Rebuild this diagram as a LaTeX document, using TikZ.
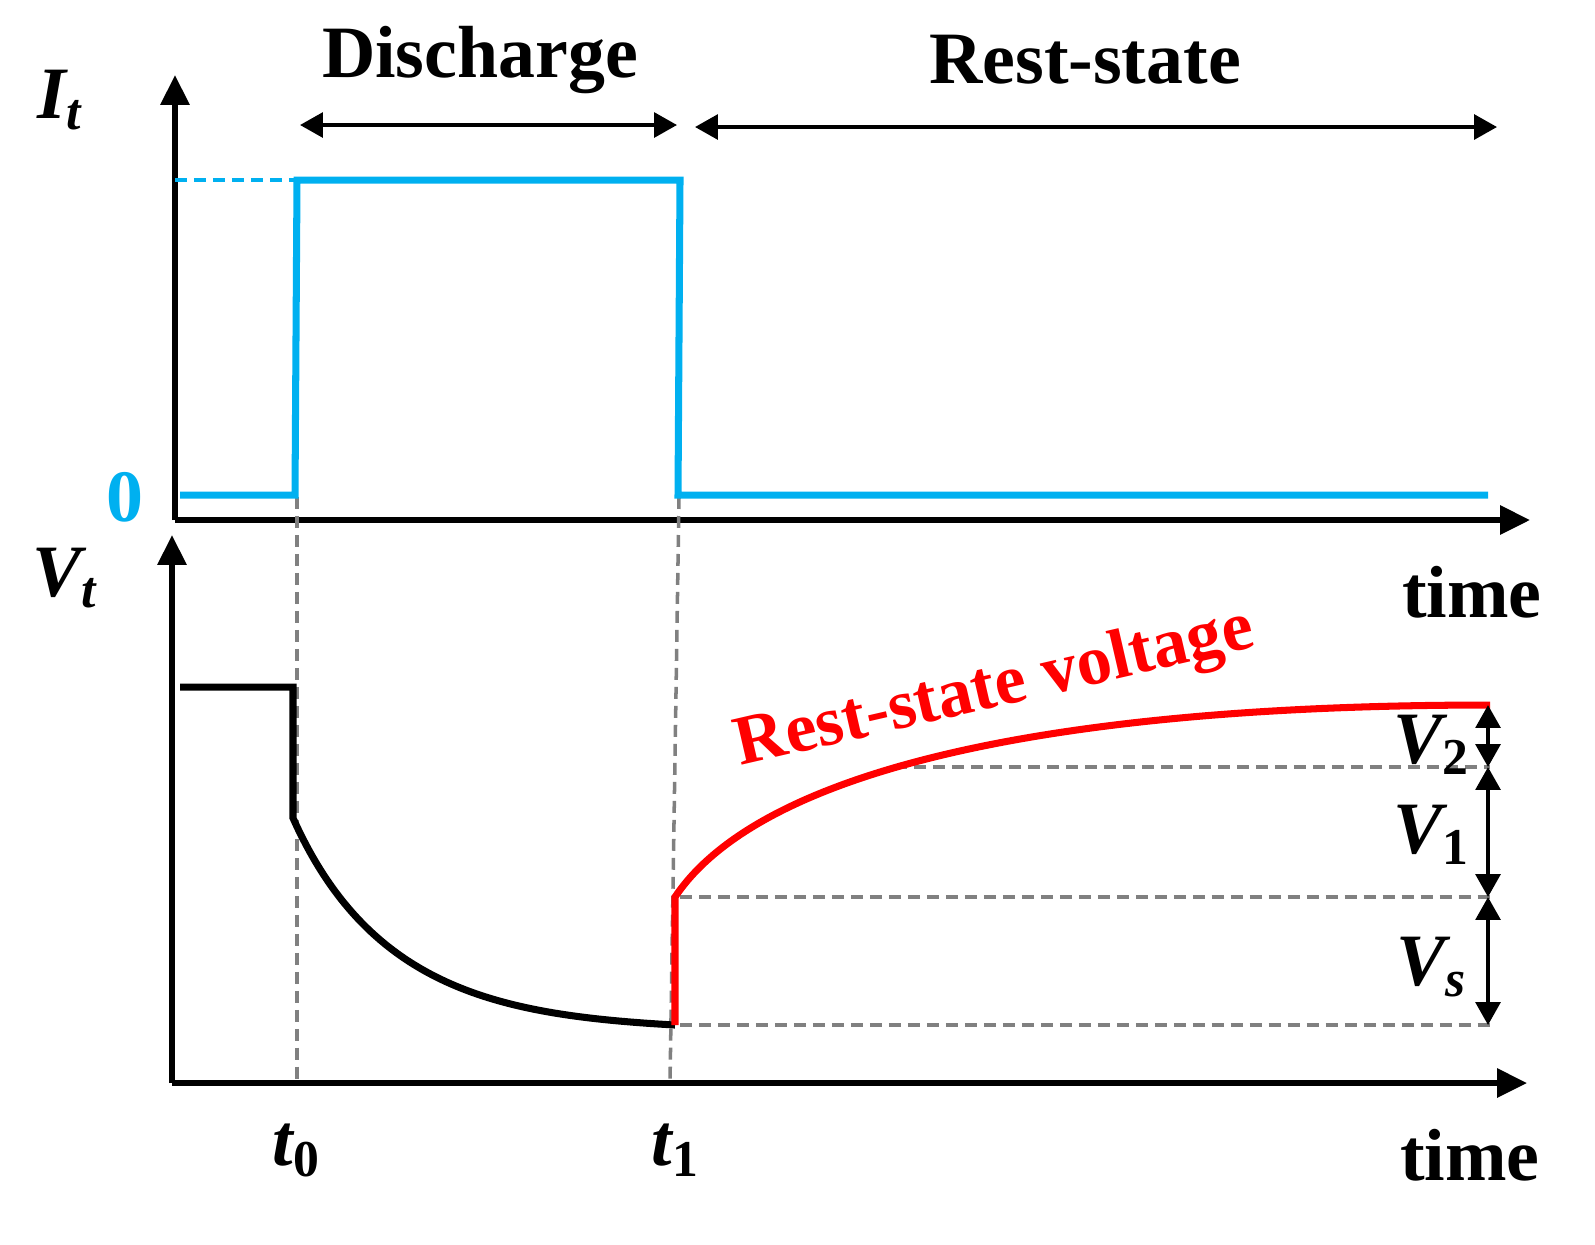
\documentclass[tikz,border=0pt]{standalone}
\usepackage{fontspec}
\setmainfont{Liberation Serif}
\usetikzlibrary{arrows.meta}
\definecolor{cblue}{RGB}{0,176,240}
\definecolor{cgray}{RGB}{128,128,128}
\begin{document}
\begin{tikzpicture}[x=0.01cm,y=-0.01cm,
 ax/.style={line width=1.6pt,-{Triangle[length=8.5pt,width=8pt]}},
 dbl/.style={line width=1.1pt,{Triangle[length=6.5pt,width=7pt]}-{Triangle[length=6.5pt,width=7pt]}},
 gd/.style={cgray,line width=1pt,dash pattern=on 3.4pt off 2pt},
 lab/.style={font=\fontsize{21}{24}\selectfont\bfseries},
 il/.style={font=\fontsize{21}{24}\selectfont\bfseries\itshape}]
\useasboundingbox (0,0) rectangle (1595,1244);
% axes
\coordinate (o1) at (175,520); \coordinate (y1) at (175,75); \coordinate (x1) at (1530,520);
\coordinate (o2) at (172,1083); \coordinate (y2) at (172,535); \coordinate (x2) at (1527,1083);
\draw[ax] (o1) -- (y1); \draw[ax] (o1) -- (x1);
\draw[ax] (o2) -- (y2); \draw[ax] (o2) -- (x2);
% gray dashed
\draw[gd] (297,497) -- (297,1083);
\draw[gd] (679,497) -- (670,1083);
\draw[gd] (895,767) -- (1490,767);
\draw[gd] (680,897) -- (1490,897);
\draw[gd] (680,1025) -- (1490,1025);
% current
\draw[cblue,line width=1pt,dash pattern=on 3.4pt off 2pt] (175,180) -- (297,180);
\draw[cblue,line width=2pt,line join=miter] (180,495) -- (295,495) -- (297,180) -- (680,180) -- (678,495) -- (1488,495);
% voltage
\draw[black,line width=2pt] (180,687) -- (293,687) -- (293,818) .. controls (370,990) and (500,1015) .. (675,1025);
\draw[red,line width=2pt] (675,1025) -- (675,897) .. controls (760,770) and (1050,705) .. (1490,705);
% double arrows
\draw[dbl] (1488,705) -- (1488,767);
\draw[dbl] (1488,767) -- (1488,897);
\draw[dbl] (1488,897) -- (1488,1025);
\draw[dbl] (300,125) -- (677,125);
\draw[dbl] (695,127) -- (1497,127);
% labels
\node[lab] (dis) at (480,60) {Discharge};
\node[lab] (rs) at (1085,60) {Rest-state};
\node[il] (it) at (60,100) {I\textsubscript{t}};
\node[il] (vt) at (65,578) {V\textsubscript{t}};
\node[lab,cblue] (zero) at (125,497) {0};
\node[lab] (tm1) at (1472,592) {time};
\node[lab] (tm2) at (1470,1155) {time};
\node[il] (t0) at (297,1150) {t\textsubscript{\upshape 0}};
\node[il] (t1) at (676,1150) {t\textsubscript{\upshape 1}};
\node[il] (v2) at (1432,745) {V\textsubscript{\upshape 2}};
\node[il] (v1) at (1432,835) {V\textsubscript{\upshape 1}};
\node[il] (vs) at (1432,967) {V\textsubscript{s}};
\node[red,rotate=13,font=\fontsize{20}{23}\selectfont\bfseries] (rsv) at (995,690) {Rest-state voltage};
\end{tikzpicture}
\end{document}
